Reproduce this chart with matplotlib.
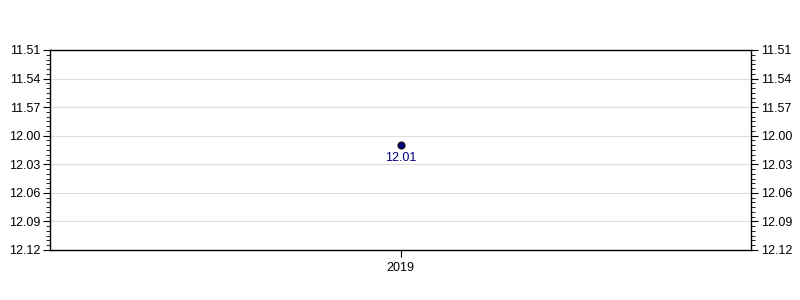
import matplotlib
matplotlib.use('Agg')
import matplotlib.pyplot as plt
from matplotlib.ticker import MultipleLocator, AutoMinorLocator, FuncFormatter

plt.rcParams['font.family'] = ['Liberation Sans', 'DejaVu Sans']

# data: finishing time in minutes.seconds
years = ['2019']
times = ['12.01']
y_min_label = '11.51'
y_max_label = '12.12'


def to_sec(s):
    m, sec = s.split('.')
    return int(m) * 60 + int(sec)


def fmt(v, pos=None):
    v = int(round(v))
    return '%d.%02d' % (v // 60, v % 60)


secs = [to_sec(t) for t in times]
x = list(range(len(years)))

fig = plt.figure(figsize=(8, 3), dpi=100)
ax = fig.add_axes([0.0625, 0.1667, 0.8763, 0.6667])

ax.plot(x, secs, 'o', color='#000080', markeredgecolor='black',
        markeredgewidth=0.8, markersize=5, zorder=3)
for xi, s, t in zip(x, secs, times):
    ax.annotate(t, (xi, s), xytext=(0, -9), textcoords='offset points',
                ha='center', va='center', color='#000080', fontsize=9)

ax.set_xlim(-0.5, len(years) - 0.5)
ax.set_xticks(x)
ax.set_xticklabels(years)
ax.set_ylim(to_sec(y_max_label), to_sec(y_min_label))
ax.yaxis.set_major_locator(MultipleLocator(3))
ax.yaxis.set_minor_locator(AutoMinorLocator(6))
ax.yaxis.set_major_formatter(FuncFormatter(fmt))
ax.grid(axis='y', color='#dddddd', linewidth=0.8)
ax.set_axisbelow(True)

ax.tick_params(axis='y', which='major', length=5, width=0.8, labelsize=9,
               pad=2, left=True, right=True, labelleft=True, labelright=True)
ax.tick_params(axis='y', which='minor', length=3, width=0.6,
               left=True, right=True)
ax.tick_params(axis='x', length=5, width=0.8, labelsize=9, pad=4)
for sp in ax.spines.values():
    sp.set_linewidth(1.0)

fig.savefig('out.png', dpi=100)
